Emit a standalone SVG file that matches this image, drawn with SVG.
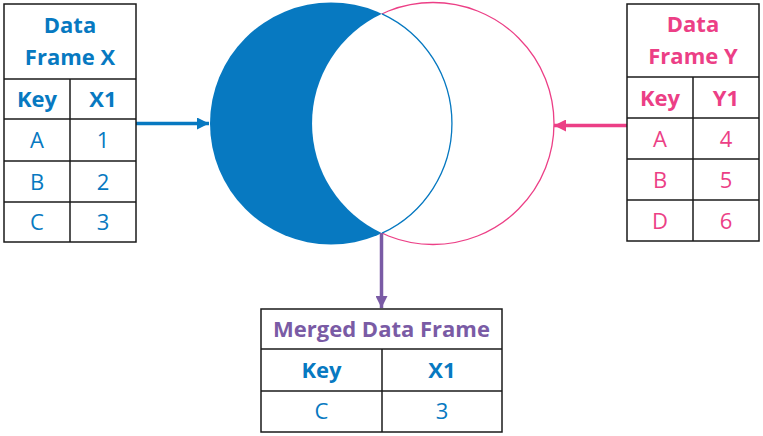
<svg xmlns="http://www.w3.org/2000/svg" width="763" height="436" viewBox="0 0 763 436">
<defs>
<style>
.grid{fill:#fff;stroke:#1a1a1a;stroke-width:1.5}
.ln{stroke:#1a1a1a;stroke-width:1.5}
text{font-family:"Open Sans",Lato,"Liberation Sans",sans-serif;font-size:22px;text-anchor:middle}
.b{font-weight:bold}
.blue{fill:#0779C1}
.pink{fill:#EC3F86}
.purple{fill:#7A5BA5}
</style>
<marker id="ahBlue" viewBox="0 0 12 12" refX="12" refY="6" markerWidth="12" markerHeight="12" markerUnits="userSpaceOnUse" orient="auto"><path d="M0,0L12,6L0,12z" fill="#0779C1"/></marker>
<marker id="ahPink" viewBox="0 0 12 12" refX="12" refY="6" markerWidth="12" markerHeight="12" markerUnits="userSpaceOnUse" orient="auto"><path d="M0,0L12,6L0,12z" fill="#EC3F86"/></marker>
<marker id="ahPurple" viewBox="0 0 12 12" refX="12" refY="6" markerWidth="12" markerHeight="12" markerUnits="userSpaceOnUse" orient="auto"><path d="M0,0L12,6L0,12z" fill="#7A5BA5"/></marker>
</defs>
<rect width="763" height="436" fill="#fff"/>

<g id="venn">
<circle cx="433" cy="123.5" r="121" fill="none" stroke="#EC3F86" stroke-width="1.3"/>
<circle cx="331" cy="123.5" r="121" fill="#0779C1"/>
<path d="M382,13.8A121,121 0 0,1 382,233.2A121,121 0 0,1 382,13.8z" fill="#fff"/>
<path d="M382,13.8A121,121 0 0,1 382,233.2" fill="none" stroke="#0779C1" stroke-width="1.3"/>
</g>

<g id="connectors">
<line x1="136" y1="123.5" x2="209" y2="123.5" stroke="#0779C1" stroke-width="3.5" marker-end="url(#ahBlue)"/>
<line x1="627" y1="125.5" x2="554" y2="125.5" stroke="#EC3F86" stroke-width="3.5" marker-end="url(#ahPink)"/>
<line x1="381.5" y1="233" x2="381.5" y2="308" stroke="#7A5BA5" stroke-width="3.5" marker-end="url(#ahPurple)"/>
</g>

<g id="table-x">
<rect class="grid" x="4" y="4" width="132" height="238"/>
<line class="ln" x1="4" y1="79" x2="136" y2="79"/>
<line class="ln" x1="4" y1="119" x2="136" y2="119"/>
<line class="ln" x1="4" y1="161" x2="136" y2="161"/>
<line class="ln" x1="4" y1="202" x2="136" y2="202"/>
<line class="ln" x1="70" y1="79" x2="70" y2="242"/>
<text class="b blue" x="70" y="33">Data</text>
<text class="b blue" x="70" y="65">Frame X</text>
<text class="b blue" x="37" y="107">Key</text>
<text class="b blue" x="103" y="107">X1</text>
<text class="blue" x="37" y="148">A</text>
<text class="blue" x="103" y="148">1</text>
<text class="blue" x="37" y="190">B</text>
<text class="blue" x="103" y="190">2</text>
<text class="blue" x="37" y="230">C</text>
<text class="blue" x="103" y="230">3</text>
</g>

<g id="table-y">
<rect class="grid" x="627" y="4" width="132" height="237"/>
<line class="ln" x1="627" y1="77" x2="759" y2="77"/>
<line class="ln" x1="627" y1="118" x2="759" y2="118"/>
<line class="ln" x1="627" y1="159" x2="759" y2="159"/>
<line class="ln" x1="627" y1="200" x2="759" y2="200"/>
<line class="ln" x1="693" y1="77" x2="693" y2="241"/>
<text class="b pink" x="693" y="32">Data</text>
<text class="b pink" x="693" y="64">Frame Y</text>
<text class="b pink" x="660" y="106">Key</text>
<text class="b pink" x="726" y="106">Y1</text>
<text class="pink" x="660" y="147">A</text>
<text class="pink" x="726" y="147">4</text>
<text class="pink" x="660" y="188">B</text>
<text class="pink" x="726" y="188">5</text>
<text class="pink" x="660" y="229">D</text>
<text class="pink" x="726" y="229">6</text>
</g>

<g id="merged">
<rect class="grid" x="261" y="309" width="241" height="123"/>
<line class="ln" x1="261" y1="349" x2="502" y2="349"/>
<line class="ln" x1="261" y1="391" x2="502" y2="391"/>
<line class="ln" x1="382" y1="349" x2="382" y2="432"/>
<text class="b purple" x="381.5" y="337">Merged Data Frame</text>
<text class="b blue" x="321.5" y="378">Key</text>
<text class="b blue" x="442" y="378">X1</text>
<text class="blue" x="321.5" y="419">C</text>
<text class="blue" x="442" y="419">3</text>
</g>
</svg>
